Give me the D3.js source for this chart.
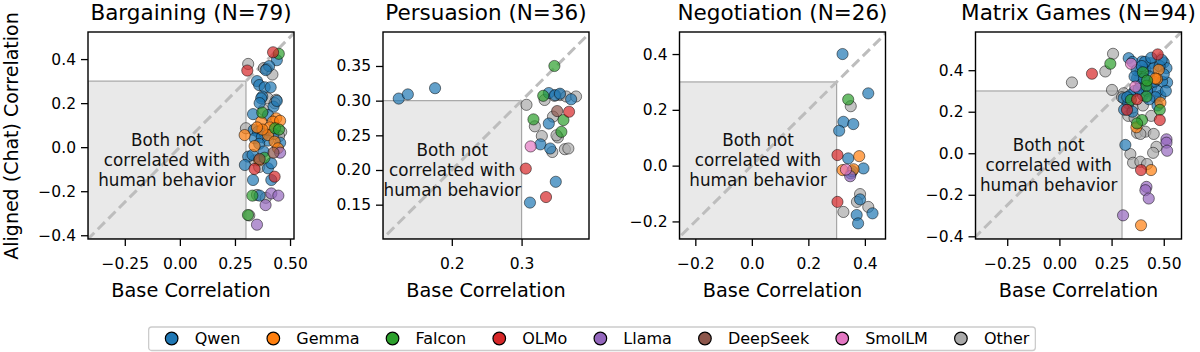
<!DOCTYPE html>
<html>
<head>
<meta charset="utf-8">
<script src="https://cdn.jsdelivr.net/npm/d3@7"></script>
<style>
body { margin: 0; background: #fff; }
text { font-family: "DejaVu Sans", sans-serif; }
</style>
</head>
<body>
<svg id="drawing_region"></svg>
<script>
// model families and their colours (tab10)
const families = ["Qwen", "Gemma", "Falcon", "OLMo", "Llama", "DeepSeek", "SmolLM", "Other"];
const familyColors = ["#1f77b4", "#ff7f0e", "#2ca02c", "#d62728", "#9467bd", "#8c564b", "#e377c2", "#a9a9a9"];

const panelTitles = ["Bargaining (N=79)", "Persuasion (N=36)", "Negotiation (N=26)", "Matrix Games (N=94)"];
const threshold = 0.3;

// [base correlation, aligned (chat) correlation, family]
const bargaining = [
  [0.31,0.378,"Other"],[0.381,0.359,"Other"],[0.395,0.355,"Other"],[0.399,0.222,"Other"],[0.437,0.215,"Other"],
  [0.30,0.086,"Other"],[0.46,0.07,"Other"],[0.43,0.20,"Other"],[0.34,-0.06,"Other"],[0.36,-0.09,"Other"],
  [0.35,-0.217,"Other"],[0.315,-0.31,"Other"],[0.45,0.05,"Other"],[0.38,0.17,"Other"],[0.42,0.33,"Other"],[0.39,-0.23,"Other"],
  [0.44,0.395,"Qwen"],[0.405,0.368,"Qwen"],[0.39,0.35,"Qwen"],[0.35,0.30,"Qwen"],[0.36,0.282,"Qwen"],
  [0.385,0.272,"Qwen"],[0.412,0.272,"Qwen"],[0.374,0.23,"Qwen"],[0.369,0.222,"Qwen"],[0.362,0.2,"Qwen"],
  [0.425,0.184,"Qwen"],[0.332,0.15,"Qwen"],[0.40,0.146,"Qwen"],[0.335,0.078,"Qwen"],[0.354,0.07,"Qwen"],
  [0.385,0.063,"Qwen"],[0.425,0.06,"Qwen"],[0.34,0.04,"Qwen"],[0.372,0.045,"Qwen"],[0.40,0.03,"Qwen"],
  [0.36,0.015,"Qwen"],[0.31,-0.043,"Qwen"],[0.295,-0.081,"Qwen"],[0.33,-0.035,"Qwen"],[0.40,-0.096,"Qwen"],
  [0.415,-0.073,"Qwen"],[0.332,-0.149,"Qwen"],[0.415,-0.149,"Qwen"],[0.362,-0.22,"Qwen"],[0.44,0.21,"Qwen"],
  [0.455,0.02,"Qwen"],[0.38,-0.02,"Qwen"],
  [0.437,0.131,"Gemma"],[0.369,0.116,"Gemma"],[0.422,0.116,"Gemma"],[0.407,0.09,"Gemma"],[0.294,0.055,"Gemma"],
  [0.40,0.055,"Gemma"],[0.339,0.005,"Gemma"],[0.43,0.025,"Gemma"],[0.445,-0.005,"Gemma"],[0.375,0.08,"Gemma"],
  [0.455,0.12,"Gemma"],[0.35,0.09,"Gemma"],[0.36,-0.06,"Gemma"],
  [0.449,0.424,"Falcon"],[0.374,0.157,"Falcon"],[0.432,0.086,"Falcon"],[0.384,-0.048,"Falcon"],
  [0.329,-0.22,"Falcon"],[0.309,-0.308,"Falcon"],[0.45,0.08,"Falcon"],
  [0.423,0.431,"OLMo"],[0.306,0.348,"OLMo"],[0.339,-0.099,"OLMo"],[0.43,-0.134,"OLMo"],
  [0.415,-0.21,"Llama"],[0.447,-0.22,"Llama"],[0.389,-0.263,"Llama"],[0.35,-0.352,"Llama"],[0.455,-0.025,"Llama"],
  [0.362,-0.054,"DeepSeek"],[0.425,-0.025,"DeepSeek"]
];

const persuasion = [
  [0.355,0.308,"Other"],[0.364,0.306,"Other"],[0.378,0.306,"Other"],[0.307,0.294,"Other"],[0.333,0.301,"Other"],
  [0.345,0.277,"Other"],[0.319,0.263,"Other"],[0.329,0.249,"Other"],[0.352,0.247,"Other"],[0.344,0.226,"Other"],
  [0.362,0.23,"Other"],[0.367,0.231,"Other"],[0.35,0.25,"Other"],[0.347,0.307,"Other"],
  [0.124,0.303,"Qwen"],[0.137,0.309,"Qwen"],[0.176,0.318,"Qwen"],[0.339,0.311,"Qwen"],[0.348,0.308,"Qwen"],
  [0.371,0.302,"Qwen"],[0.339,0.267,"Qwen"],[0.327,0.237,"Qwen"],[0.341,0.231,"Qwen"],[0.349,0.183,"Qwen"],
  [0.312,0.153,"Qwen"],[0.355,0.31,"Qwen"],
  [0.347,0.35,"Falcon"],[0.331,0.307,"Falcon"],[0.317,0.273,"Falcon"],[0.36,0.272,"Falcon"],[0.357,0.255,"Falcon"],
  [0.368,0.284,"OLMo"],[0.306,0.202,"OLMo"],[0.335,0.161,"OLMo"],
  [0.351,0.285,"DeepSeek"],
  [0.313,0.234,"SmolLM"]
];

const negotiation = [
  [0.35,0.213,"Other"],[0.383,-0.102,"Other"],[0.372,-0.13,"Other"],[0.412,-0.148,"Other"],[0.324,-0.166,"Other"],
  [0.321,0.40,"Qwen"],[0.412,0.259,"Qwen"],[0.324,0.157,"Qwen"],[0.359,0.149,"Qwen"],[0.309,0.125,"Qwen"],
  [0.341,0.026,"Qwen"],[0.395,-0.01,"Qwen"],[0.35,-0.028,"Qwen"],[0.383,-0.121,"Qwen"],[0.371,-0.177,"Qwen"],
  [0.427,-0.171,"Qwen"],[0.376,-0.207,"Qwen"],[0.355,-0.02,"Qwen"],
  [0.38,0.034,"Gemma"],[0.321,-0.016,"Gemma"],[0.36,-0.013,"Gemma"],
  [0.341,0.237,"Falcon"],
  [0.303,0.038,"OLMo"],[0.303,-0.13,"OLMo"],
  [0.348,-0.038,"Llama"],
  [0.333,-0.014,"SmolLM"]
];

const matrixGames = [
  [0.257,0.479,"Other"],[0.22,0.394,"Other"],[0.06,0.341,"Other"],[0.252,0.305,"Other"],[0.308,0.289,"Other"],
  [0.372,0.098,"Other"],[0.412,0.104,"Other"],[0.452,0.093,"Other"],[0.388,0.093,"Other"],[0.465,0.031,"Other"],
  [0.449,0.002,"Other"],[0.34,-0.004,"Other"],[0.353,-0.046,"Other"],[0.388,-0.041,"Other"],[0.42,-0.052,"Other"],
  [0.33,0.18,"Other"],[0.36,0.17,"Other"],[0.44,0.18,"Other"],[0.40,0.23,"Other"],[0.30,0.27,"Other"],[0.35,0.22,"Other"],
  [0.332,0.458,"Qwen"],[0.396,0.442,"Qwen"],[0.436,0.434,"Qwen"],[0.5,0.437,"Qwen"],[0.513,0.41,"Qwen"],
  [0.388,0.394,"Qwen"],[0.412,0.402,"Qwen"],[0.372,0.362,"Qwen"],[0.516,0.341,"Qwen"],[0.492,0.345,"Qwen"],
  [0.308,0.265,"Qwen"],[0.484,0.276,"Qwen"],[0.316,0.04,"Qwen"],[0.35,0.44,"Qwen"],[0.37,0.40,"Qwen"],
  [0.45,0.41,"Qwen"],[0.39,0.33,"Qwen"],[0.44,0.32,"Qwen"],[0.47,0.30,"Qwen"],[0.33,0.24,"Qwen"],
  [0.31,0.21,"Qwen"],[0.36,0.30,"Qwen"],[0.40,0.28,"Qwen"],[0.43,0.37,"Qwen"],[0.48,0.42,"Qwen"],
  [0.41,0.44,"Qwen"],[0.46,0.27,"Qwen"],[0.34,0.28,"Qwen"],[0.50,0.38,"Qwen"],[0.42,0.30,"Qwen"],
  [0.38,0.31,"Qwen"],[0.49,0.45,"Qwen"],[0.36,0.37,"Qwen"],[0.44,0.46,"Qwen"],[0.47,0.23,"Qwen"],
  [0.35,0.20,"Qwen"],[0.43,0.26,"Qwen"],[0.51,0.30,"Qwen"],[0.405,0.36,"Qwen"],[0.455,0.345,"Qwen"],
  [0.325,0.27,"Qwen"],[0.395,0.42,"Qwen"],
  [0.476,0.402,"Gemma"],[0.468,0.357,"Gemma"],[0.484,0.244,"Gemma"],[0.369,0.125,"Gemma"],[0.439,-0.081,"Gemma"],
  [0.391,-0.347,"Gemma"],[0.46,0.36,"Gemma"],
  [0.244,0.431,"Falcon"],[0.417,0.325,"Falcon"],[0.343,0.257,"Falcon"],[0.417,0.273,"Falcon"],[0.481,0.209,"Falcon"],
  [0.396,0.16,"Falcon"],[0.372,0.144,"Falcon"],[0.40,0.39,"Falcon"],[0.42,0.35,"Falcon"],
  [0.156,0.383,"OLMo"],[0.471,0.476,"OLMo"],[0.372,0.26,"OLMo"],[0.324,0.209,"OLMo"],[0.481,0.16,"OLMo"],[0.391,-0.081,"OLMo"],
  [0.513,0.067,"Llama"],[0.513,0.051,"Llama"],[0.516,0.012,"Llama"],[0.417,-0.162,"Llama"],[0.412,-0.178,"Llama"],
  [0.428,-0.218,"Llama"],[0.305,-0.299,"Llama"],
  [0.343,0.431,"SmolLM"],[0.364,0.321,"SmolLM"]
];

const panelData = [bargaining, persuasion, negotiation, matrixGames];

// axis limits and ticks
const xDomains = [[-0.417, 0.518], [0.1014, 0.3966], [-0.256, 0.473], [-0.402, 0.585]];
const yDomains = [[-0.417, 0.523], [0.1005, 0.399], [-0.263, 0.479], [-0.413, 0.584]];
const xTicks = [[-0.25, 0, 0.25, 0.5], [0.2, 0.3], [-0.2, 0, 0.2, 0.4], [-0.25, 0, 0.25, 0.5]];
const yTicks = [[-0.4, -0.2, 0, 0.2, 0.4], [0.15, 0.2, 0.25, 0.3, 0.35], [-0.2, 0, 0.2, 0.4], [-0.4, -0.2, 0, 0.2, 0.4]];
const xFormats = [".2f", ".1f", ".1f", ".2f"];
const yFormats = [".1f", ".2f", ".1f", ".1f"];

const color = d3.scaleOrdinal().domain(families).range(familyColors);

const svg = d3.select('#drawing_region')
    .attr('width', 1200)
    .attr('height', 352);

class ScatterPanel {

    constructor( config, data ) {
        this.config = config;
        this.data = data;
        this.init();
    }

    init() {
        let self = this;
        let c = self.config;

        self.chart = svg.append('g')
            .attr('transform', `translate(${c.left}, ${c.top})`);

        self.xscale = d3.scaleLinear().domain(c.xDomain).range([0, c.width]);
        self.yscale = d3.scaleLinear().domain(c.yDomain).range([c.height, 0]);

        self.xaxis = d3.axisBottom(self.xscale)
            .tickValues(c.xTicks)
            .tickFormat(d3.format(c.xFormat))
            .tickSize(7)
            .tickPadding(12);

        self.yaxis = d3.axisLeft(self.yscale)
            .tickValues(c.yTicks)
            .tickFormat(d3.format(c.yFormat))
            .tickSize(7)
            .tickPadding(5);

        self.chart.append('clipPath')
            .attr('id', `clip${c.index}`)
            .append('rect')
            .attr('width', c.width)
            .attr('height', c.height);

        self.plot = self.chart.append('g')
            .attr('clip-path', `url(#clip${c.index})`);
    }

    render() {
        let self = this;
        let c = self.config;

        // "both not correlated" region
        const rx = self.xscale(c.xDomain[0]);
        const rw = self.xscale(threshold) - rx;
        const ry = self.yscale(threshold);
        const rh = self.yscale(c.yDomain[0]) - ry;
        self.plot.append('rect')
            .attr('x', rx).attr('y', ry)
            .attr('width', rw).attr('height', rh)
            .attr('fill', '#e9e9e9')
            .attr('stroke', '#a6a6a6')
            .attr('stroke-width', 1.2);

        // y = x reference
        const lo = Math.min(c.xDomain[0], c.yDomain[0]) - 0.1;
        const hi = Math.max(c.xDomain[1], c.yDomain[1]) + 0.1;
        self.plot.append('line')
            .attr('x1', self.xscale(lo)).attr('y1', self.yscale(lo))
            .attr('x2', self.xscale(hi)).attr('y2', self.yscale(hi))
            .attr('stroke', '#bdbdbd')
            .attr('stroke-width', 3)
            .attr('stroke-dasharray', '10,5');

        self.plot.selectAll('circle')
            .data(self.data)
            .join('circle')
            .attr('cx', d => self.xscale(d[0]))
            .attr('cy', d => self.yscale(d[1]))
            .attr('r', 5.6)
            .attr('fill', d => color(d[2]))
            .attr('fill-opacity', 0.7)
            .attr('stroke', '#000')
            .attr('stroke-opacity', 0.55)
            .attr('stroke-width', 0.9);

        // annotation in the middle of the shaded area
        const cx = rx + rw / 2;
        const cy = ry + rh / 2 + 6;
        const note = self.chart.append('text')
            .attr('text-anchor', 'middle')
            .attr('font-size', '16.8px')
            .attr('fill', '#111');
        ["Both not", "correlated with", "human behavior"].forEach((line, i) => {
            note.append('tspan')
                .attr('x', cx)
                .attr('y', cy + (i - 1) * 20)
                .text(line);
        });

        // spines
        self.chart.append('rect')
            .attr('width', c.width)
            .attr('height', c.height)
            .attr('fill', 'none')
            .attr('stroke', '#000')
            .attr('stroke-width', 1.4);

        const xg = self.chart.append('g')
            .attr('transform', `translate(0, ${c.height})`)
            .call(self.xaxis);
        const yg = self.chart.append('g')
            .call(self.yaxis);
        [xg, yg].forEach(g => {
            g.select('.domain').remove();
            g.selectAll('.tick line').attr('stroke', '#000').attr('stroke-width', 1.3);
            g.selectAll('.tick text')
                .attr('fill', '#000')
                .attr('font-size', '15.5px')
                .attr('font-family', '"DejaVu Sans", sans-serif');
        });

        self.chart.append('text')
            .attr('x', c.width / 2)
            .attr('y', -12)
            .attr('text-anchor', 'middle')
            .attr('font-size', '21.5px')
            .attr('fill', '#000')
            .text(c.title);

        self.chart.append('text')
            .attr('x', c.width / 2)
            .attr('y', 297 - c.top)
            .attr('text-anchor', 'middle')
            .attr('font-size', '19.3px')
            .attr('fill', '#000')
            .text('Base Correlation');
    }
}

const lefts = [88, 383, 679.5, 975.5];
panelData.forEach((data, i) => {
    const panel = new ScatterPanel({
        index: i,
        left: lefts[i],
        top: 32,
        width: 206,
        height: 207,
        xDomain: xDomains[i],
        yDomain: yDomains[i],
        xTicks: xTicks[i],
        yTicks: yTicks[i],
        xFormat: xFormats[i],
        yFormat: yFormats[i],
        title: panelTitles[i]
    }, data);
    panel.render();
});

svg.append('text')
    .attr('transform', 'translate(17.5, 136) rotate(-90)')
    .attr('text-anchor', 'middle')
    .attr('font-size', '19px')
    .attr('fill', '#000')
    .text('Aligned (Chat) Correlation');

// legend
const legend = svg.append('g');
const legendBox = legend.append('rect')
    .attr('y', 327)
    .attr('height', 23.5)
    .attr('rx', 3)
    .attr('fill', '#fff')
    .attr('stroke', '#cccccc')
    .attr('stroke-width', 1.3);

let pos = 23;
families.forEach(f => {
    legend.append('circle')
        .attr('cx', pos)
        .attr('cy', 338.5)
        .attr('r', 6.3)
        .attr('fill', color(f))
        .attr('stroke', '#000')
        .attr('stroke-width', 1.2);
    const t = legend.append('text')
        .attr('x', pos + 23)
        .attr('y', 344)
        .attr('font-size', '16px')
        .attr('fill', '#000')
        .text(f);
    pos = pos + 23 + t.node().getComputedTextLength() + 33;
});
const legendWidth = pos - 33 + 6;
legendBox.attr('x', 0).attr('width', legendWidth);
legend.attr('transform', `translate(${592 - legendWidth / 2}, 0)`);
</script>
</body>
</html>
